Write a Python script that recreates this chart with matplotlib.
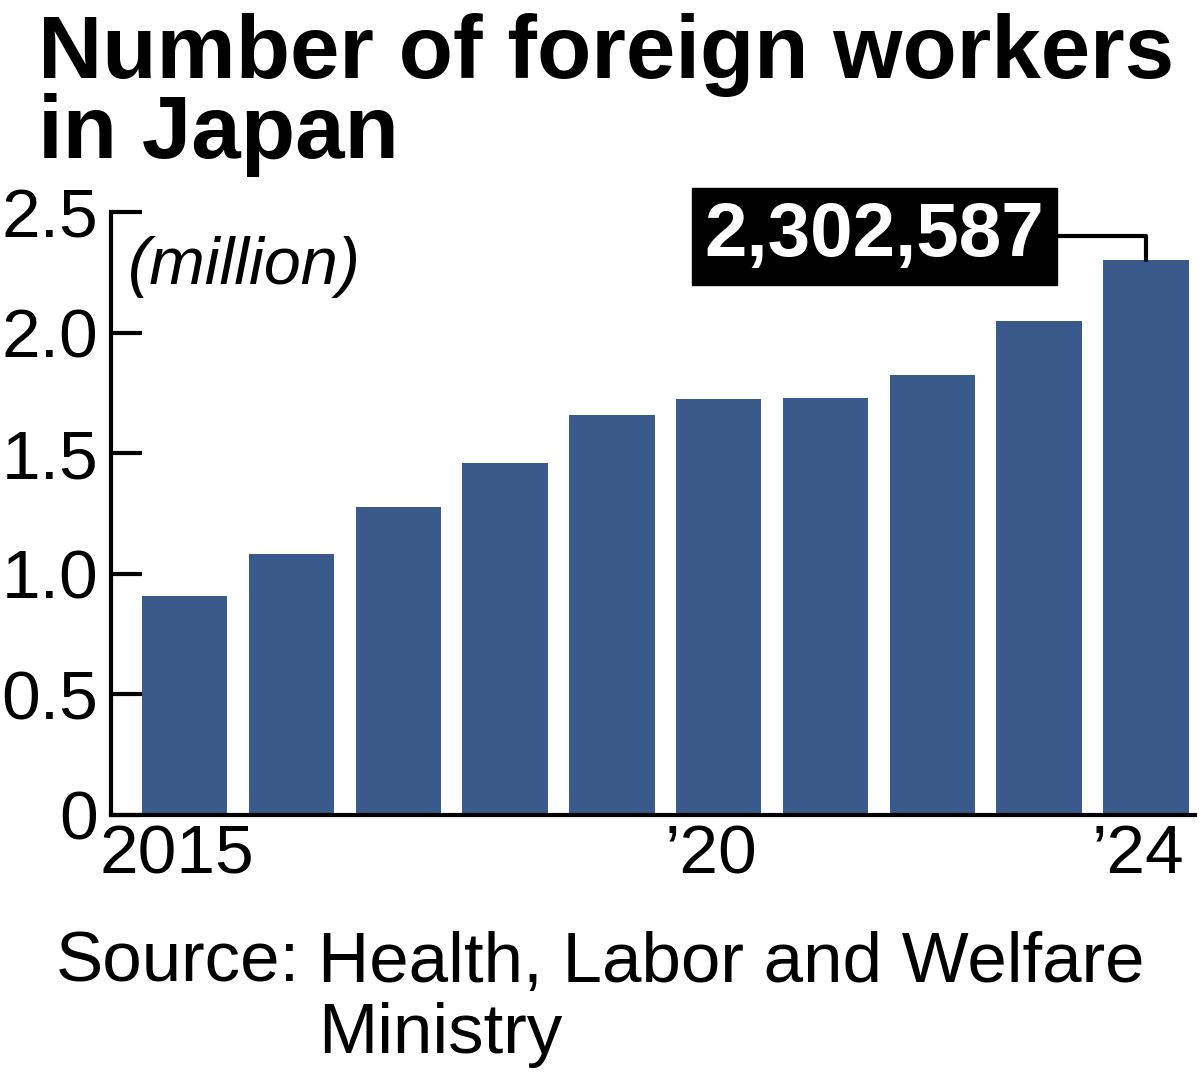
import matplotlib.pyplot as plt
from matplotlib.transforms import ScaledTranslation

years = [2015, 2016, 2017, 2018, 2019, 2020, 2021, 2022, 2023, 2024]
workers_m = [0.908, 1.084, 1.279, 1.460, 1.659, 1.724, 1.727, 1.823, 2.049, 2.303]
x_labels = {0: '2015', 5: '\u201920', 9: '\u201924'}
yticks = [0, 0.5, 1.0, 1.5, 2.0, 2.5]
ytick_labels = ['0', '0.5', '1.0', '1.5', '2.0', '2.5']
last_label = '2,302,587'

plt.rcParams['font.family'] = ['Liberation Sans', 'DejaVu Sans']

fig = plt.figure(figsize=(12, 10.78), dpi=100)
ax = fig.add_axes([111 / 1200, 1 - 815 / 1078, (1195 - 111) / 1200, (815 - 212) / 1078])

xs = list(range(len(years)))
ax.bar(xs, workers_m, width=0.8, color='#3a5a8c', zorder=2)

ax.set_xlim(-0.69, 9.46)
ax.set_ylim(0, 2.5)
for s in ['top', 'right']:
    ax.spines[s].set_visible(False)
ax.spines['left'].set_linewidth(3)
ax.spines['bottom'].set_linewidth(3)

ax.set_yticks(yticks)
ax.set_yticklabels(ytick_labels, fontsize=50)
ax.tick_params(axis='y', direction='in', length=22, width=3, pad=9)
ax.set_xticks(list(x_labels.keys()))
ax.set_xticklabels(list(x_labels.values()), fontsize=50)
ax.tick_params(axis='x', length=0, pad=6)
# labels sit a little left of the bar centres in the original
shift = ScaledTranslation(-8 / 100, 0, fig.dpi_scale_trans)
for lab in ax.get_xticklabels():
    lab.set_transform(lab.get_transform() + shift)

ax.text(0.016, 0.96, '(million)', transform=ax.transAxes, fontsize=48,
        style='italic', ha='left', va='top')

# callout for the latest value
ax.annotate(last_label, xy=(9, workers_m[-1]), xytext=(6.46, 2.40),
            fontsize=55, fontweight='bold', color='white', ha='center', va='center',
            bbox=dict(boxstyle='square,pad=0.17', fc='black', ec='black'),
            arrowprops=dict(arrowstyle='-', color='black', lw=3,
                            connectionstyle='angle,angleA=0,angleB=90,rad=0',
                            shrinkA=0, shrinkB=0))

fig.text(38 / 1200, 1 - 78 / 1078, 'Number of foreign workers', fontsize=64,
         fontweight='bold', ha='left', va='baseline')
fig.text(38 / 1200, 1 - 158 / 1078, 'in Japan', fontsize=64,
         fontweight='bold', ha='left', va='baseline')

fig.text(56 / 1200, 1 - 982 / 1078, 'Source:', fontsize=51, ha='left', va='baseline')
fig.text(318 / 1200, 1 - 982 / 1078, 'Health, Labor and Welfare', fontsize=51,
         ha='left', va='baseline')
fig.text(318 / 1200, 1 - 1053 / 1078, 'Ministry', fontsize=51, ha='left', va='baseline')

fig.savefig('out.png', dpi=100, facecolor='white')
